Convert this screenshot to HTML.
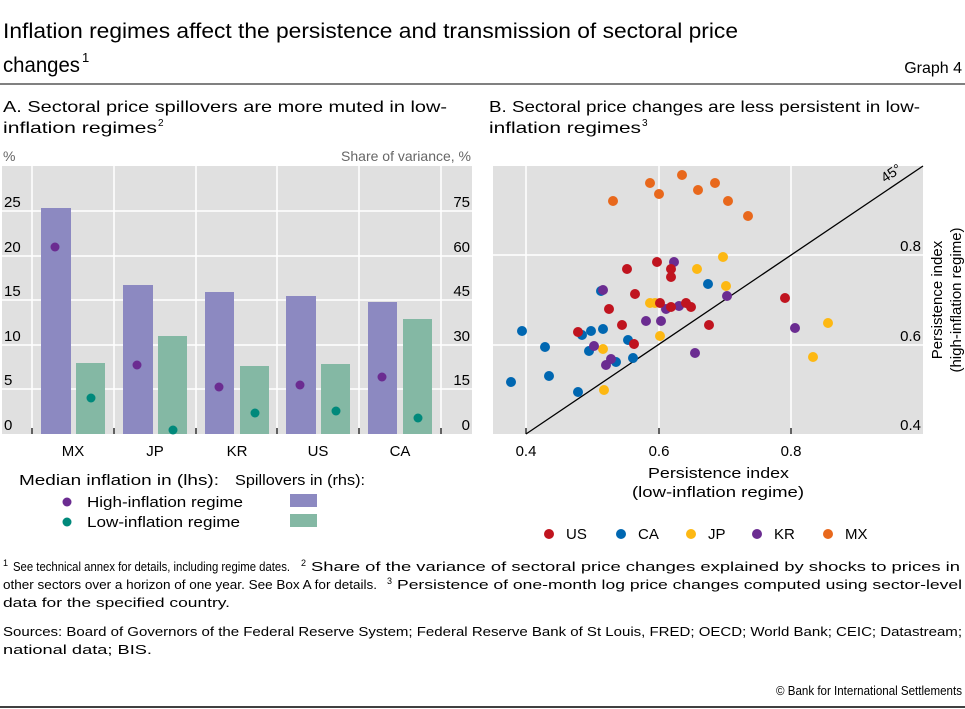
<!DOCTYPE html>
<html><head><meta charset="utf-8"><style>
body{margin:0;background:#fff;}
svg{display:block;font-family:"Liberation Sans","DejaVu Sans",sans-serif;}
</style></head><body>
<svg width="965" height="709" viewBox="0 0 965 709" xmlns="http://www.w3.org/2000/svg">
<text x="3" y="38" font-size="21" textLength="735" lengthAdjust="spacingAndGlyphs">Inflation regimes affect the persistence and transmission of sectoral price</text>
<text x="3" y="72" font-size="21" textLength="77" lengthAdjust="spacingAndGlyphs">changes</text>
<text x="82" y="62" font-size="13">1</text>
<text x="962" y="73" font-size="16" text-anchor="end">Graph 4</text>
<line x1="0" y1="84" x2="965" y2="84" stroke="#000" stroke-width="1"/>
<text x="3" y="112" font-size="16" textLength="444" lengthAdjust="spacingAndGlyphs">A. Sectoral price spillovers are more muted in low-</text>
<text x="3" y="133" font-size="16" textLength="154" lengthAdjust="spacingAndGlyphs">inflation regimes</text>
<text x="158" y="126" font-size="10">2</text>
<text x="489" y="112" font-size="16" textLength="431" lengthAdjust="spacingAndGlyphs">B. Sectoral price changes are less persistent in low-</text>
<text x="489" y="133" font-size="16" textLength="152" lengthAdjust="spacingAndGlyphs">inflation regimes</text>
<text x="642" y="126" font-size="10">3</text>
<!-- Panel A -->
<text x="3" y="161" font-size="14" fill="#666">%</text>
<text x="471" y="161" font-size="14" fill="#666" text-anchor="end">Share of variance, %</text>
<rect x="2" y="166" width="470" height="268" fill="#e0e0e0"/>
<g stroke="#fff" stroke-width="1.5">
<line x1="2" y1="211" x2="472" y2="211"/><line x1="2" y1="256" x2="472" y2="256"/><line x1="2" y1="300" x2="472" y2="300"/><line x1="2" y1="345" x2="472" y2="345"/><line x1="2" y1="389" x2="472" y2="389"/>
<line x1="32" y1="166" x2="32" y2="434"/><line x1="114" y1="166" x2="114" y2="434"/><line x1="196" y1="166" x2="196" y2="434"/><line x1="277" y1="166" x2="277" y2="434"/><line x1="359" y1="166" x2="359" y2="434"/><line x1="441" y1="166" x2="441" y2="434"/>
</g>
<g fill="#8c89c1">
<rect x="41" y="208" width="30" height="226"/><rect x="123" y="285" width="30" height="149"/><rect x="205" y="292" width="29" height="142"/><rect x="286" y="296" width="30" height="138"/><rect x="368" y="302" width="29" height="132"/>
</g>
<g fill="#84b8a4">
<rect x="76" y="363" width="29" height="71"/><rect x="158" y="336" width="29" height="98"/><rect x="240" y="366" width="29" height="68"/><rect x="321" y="364" width="29" height="70"/><rect x="403" y="319" width="29" height="115"/>
</g>
<g fill="#6b2c91">
<circle cx="55" cy="247" r="4.5"/><circle cx="137" cy="365" r="4.5"/><circle cx="219" cy="387" r="4.5"/><circle cx="300" cy="385" r="4.5"/><circle cx="382" cy="377" r="4.5"/>
</g>
<g fill="#00897b">
<circle cx="91" cy="398" r="4.5"/><circle cx="173" cy="430" r="4.5"/><circle cx="255" cy="413" r="4.5"/><circle cx="336" cy="411" r="4.5"/><circle cx="418" cy="418" r="4.5"/>
</g>
<g stroke="#000" stroke-width="1.2">
<line x1="32" y1="428" x2="32" y2="434"/><line x1="114" y1="428" x2="114" y2="434"/><line x1="196" y1="428" x2="196" y2="434"/><line x1="277" y1="428" x2="277" y2="434"/><line x1="359" y1="428" x2="359" y2="434"/><line x1="441" y1="428" x2="441" y2="434"/>
</g>
<g font-size="15" fill="#000">
<text x="4" y="207">25</text><text x="4" y="252">20</text><text x="4" y="296">15</text><text x="4" y="341">10</text><text x="4" y="385">5</text><text x="4" y="430">0</text>
<text x="470" y="207" text-anchor="end">75</text><text x="470" y="252" text-anchor="end">60</text><text x="470" y="296" text-anchor="end">45</text><text x="470" y="341" text-anchor="end">30</text><text x="470" y="385" text-anchor="end">15</text><text x="470" y="430" text-anchor="end">0</text>
<text x="73" y="456" text-anchor="middle">MX</text><text x="155" y="456" text-anchor="middle">JP</text><text x="237" y="456" text-anchor="middle">KR</text><text x="318" y="456" text-anchor="middle">US</text><text x="400" y="456" text-anchor="middle">CA</text>
</g>
<g font-size="15">
<text x="19" y="485" textLength="200" lengthAdjust="spacingAndGlyphs">Median inflation in (lhs):</text>
<text x="235" y="485" textLength="130" lengthAdjust="spacingAndGlyphs">Spillovers in (rhs):</text>
<circle cx="67" cy="502" r="4.5" fill="#6b2c91"/><text x="87" y="507" textLength="156" lengthAdjust="spacingAndGlyphs">High-inflation regime</text>
<circle cx="67" cy="522" r="4.5" fill="#00897b"/><text x="87" y="527" textLength="153" lengthAdjust="spacingAndGlyphs">Low-inflation regime</text>
<rect x="290" y="494" width="27" height="13" fill="#8c89c1"/>
<rect x="290" y="514" width="27" height="13" fill="#84b8a4"/>
</g>
<!-- Panel B -->
<rect x="493" y="166" width="430" height="268" fill="#e0e0e0"/>
<g stroke="#fff" stroke-width="1.5">
<line x1="493" y1="255" x2="923" y2="255"/><line x1="493" y1="345" x2="923" y2="345"/>
<line x1="526" y1="166" x2="526" y2="434"/><line x1="659" y1="166" x2="659" y2="434"/><line x1="791" y1="166" x2="791" y2="434"/>
</g>
<g stroke="#000" stroke-width="1.2"><line x1="526" y1="428" x2="526" y2="434"/><line x1="659" y1="428" x2="659" y2="434"/><line x1="791" y1="428" x2="791" y2="434"/></g>
<line x1="526" y1="434" x2="923" y2="166" stroke="#000" stroke-width="1.3"/>
<text x="885" y="183" font-size="14" transform="rotate(-34 885 183)">45°</text>
<g fill="#e8681c">
<circle cx="613" cy="201" r="5"/><circle cx="650" cy="183" r="5"/><circle cx="659" cy="194" r="5"/><circle cx="682" cy="175" r="5"/><circle cx="698" cy="190" r="5"/><circle cx="715" cy="183" r="5"/><circle cx="728" cy="201" r="5"/><circle cx="748" cy="216" r="5"/>
</g>
<g fill="#0067b1">
<circle cx="511" cy="382" r="5"/><circle cx="522" cy="331" r="5"/><circle cx="545" cy="347" r="5"/><circle cx="549" cy="376" r="5"/><circle cx="578" cy="392" r="5"/><circle cx="582" cy="335" r="5"/><circle cx="591" cy="331" r="5"/><circle cx="589" cy="351" r="5"/><circle cx="603" cy="329" r="5"/><circle cx="601" cy="291" r="5"/><circle cx="616" cy="362" r="5"/><circle cx="628" cy="340" r="5"/><circle cx="633" cy="358" r="5"/><circle cx="708" cy="284" r="5"/>
</g>
<g fill="#fdb813">
<circle cx="604" cy="390" r="5"/><circle cx="603" cy="349" r="5"/><circle cx="650" cy="303" r="5"/><circle cx="655" cy="303" r="5"/><circle cx="660" cy="336" r="5"/><circle cx="697" cy="269" r="5"/><circle cx="723" cy="257" r="5"/><circle cx="726" cy="286" r="5"/><circle cx="813" cy="357" r="5"/><circle cx="828" cy="323" r="5"/>
</g>
<g fill="#6b2c91">
<circle cx="674" cy="262" r="5"/><circle cx="603" cy="290" r="5"/><circle cx="646" cy="321" r="5"/><circle cx="661" cy="321" r="5"/><circle cx="666" cy="309" r="5"/><circle cx="679" cy="306" r="5"/><circle cx="727" cy="296" r="5"/><circle cx="594" cy="346" r="5"/><circle cx="611" cy="359" r="5"/><circle cx="606" cy="365" r="5"/><circle cx="695" cy="353" r="5"/><circle cx="795" cy="328" r="5"/>
</g>
<g fill="#c0141f">
<circle cx="657" cy="262" r="5"/><circle cx="671" cy="269" r="5"/><circle cx="671" cy="277" r="5"/><circle cx="627" cy="269" r="5"/><circle cx="635" cy="294" r="5"/><circle cx="609" cy="309" r="5"/><circle cx="622" cy="325" r="5"/><circle cx="578" cy="332" r="5"/><circle cx="634" cy="344" r="5"/><circle cx="660" cy="303" r="5"/><circle cx="671" cy="307" r="5"/><circle cx="686" cy="303" r="5"/><circle cx="691" cy="307" r="5"/><circle cx="709" cy="325" r="5"/><circle cx="785" cy="298" r="5"/>
</g>
<g font-size="15">
<text x="921" y="251" text-anchor="end">0.8</text><text x="921" y="341" text-anchor="end">0.6</text><text x="921" y="430" text-anchor="end">0.4</text>
<text x="526" y="456" text-anchor="middle">0.4</text><text x="659" y="456" text-anchor="middle">0.6</text><text x="791" y="456" text-anchor="middle">0.8</text>
<text x="648" y="478" textLength="141" lengthAdjust="spacingAndGlyphs">Persistence index</text>
<text x="632" y="497" textLength="172" lengthAdjust="spacingAndGlyphs">(low-inflation regime)</text>
<text transform="translate(942 300) rotate(-90)" text-anchor="middle">Persistence index</text>
<text transform="translate(961 300) rotate(-90)" text-anchor="middle">(high-inflation regime)</text>
<circle cx="549" cy="534" r="5" fill="#c0141f"/><text x="566" y="539">US</text>
<circle cx="621" cy="534" r="5" fill="#0067b1"/><text x="638" y="539">CA</text>
<circle cx="691" cy="534" r="5" fill="#fdb813"/><text x="708" y="539">JP</text>
<circle cx="757" cy="534" r="5" fill="#6b2c91"/><text x="774" y="539">KR</text>
<circle cx="828" cy="534" r="5" fill="#e8681c"/><text x="845" y="539">MX</text>
</g>
<g font-size="13" fill="#000">
<text x="3" y="566" font-size="9">1</text>
<text x="13" y="571" textLength="277" lengthAdjust="spacingAndGlyphs">See technical annex for details, including regime dates.</text>
<text x="301" y="566" font-size="9">2</text>
<text x="311" y="571" textLength="649" lengthAdjust="spacingAndGlyphs">Share of the variance of sectoral price changes explained by shocks to prices in</text>
<text x="3" y="589" textLength="374" lengthAdjust="spacingAndGlyphs">other sectors over a horizon of one year. See Box A for details.</text>
<text x="387" y="584" font-size="9">3</text>
<text x="397" y="589" textLength="565" lengthAdjust="spacingAndGlyphs">Persistence of one-month log price changes computed using sector-level</text>
<text x="3" y="607" textLength="227" lengthAdjust="spacingAndGlyphs">data for the specified country.</text>
<text x="3" y="636" textLength="959" lengthAdjust="spacingAndGlyphs">Sources: Board of Governors of the Federal Reserve System; Federal Reserve Bank of St Louis, FRED; OECD; World Bank; CEIC; Datastream;</text>
<text x="3" y="654" textLength="149" lengthAdjust="spacingAndGlyphs">national data; BIS.</text>
<text x="776" y="695" textLength="186" lengthAdjust="spacingAndGlyphs">© Bank for International Settlements</text>
</g>
<line x1="0" y1="707" x2="965" y2="707" stroke="#000" stroke-width="1.5"/>
</svg>
</body></html>
